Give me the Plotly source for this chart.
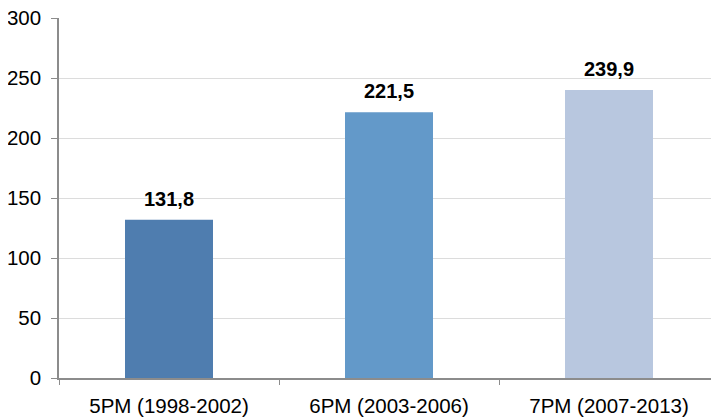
import plotly.graph_objects as go

categories = ["5PM (1998-2002)", "6PM (2003-2006)", "7PM (2007-2013)"]
values = [131.8, 221.5, 239.9]
value_labels = ["131,8", "221,5", "239,9"]
colors = ["#4F7DAF", "#6399C9", "#B8C7DF"]
y_ticks = [0, 50, 100, 150, 200, 250, 300]

FONT = "Liberation Sans, Arial, Helvetica"

fig = go.Figure()
fig.add_trace(go.Bar(
    x=categories, y=values, marker_color=colors, marker_line_width=0,
    width=0.4, hoverinfo="skip",
))
for c, v, t in zip(categories, values, value_labels):
    fig.add_annotation(x=c, y=v, text="<b>%s</b>" % t, showarrow=False,
                       yanchor="bottom", yshift=8,
                       font=dict(family=FONT, size=20, color="#000"))

fig.update_layout(
    width=711, height=409,
    margin=dict(l=51, r=0, t=10, b=39, autoexpand=False),
    paper_bgcolor="white", plot_bgcolor="white",
    showlegend=False,
    bargap=0.6,
    font=dict(family=FONT, size=20.5, color="#000"),
)
fig.update_xaxes(
    showline=True, linecolor="#8C8C8C", linewidth=1.5,
    ticks="outside", tickson="boundaries", ticklen=5, tickcolor="#8C8C8C",
    tickfont=dict(size=20.5), showgrid=False, ticklabelstandoff=9,
    automargin=False, ticklabeloverflow="allow",
)
fig.update_yaxes(
    range=[0, 300], tickvals=y_ticks,
    showline=True, linecolor="#8C8C8C", linewidth=1.5,
    ticks="outside", ticklen=6, tickcolor="#8C8C8C",
    showgrid=True, gridcolor="#DCDCDC", gridwidth=1,
    zeroline=False, tickfont=dict(size=20.5), ticklabelstandoff=6,
    automargin=False, ticklabeloverflow="allow",
)
fig.write_html("out.html")
